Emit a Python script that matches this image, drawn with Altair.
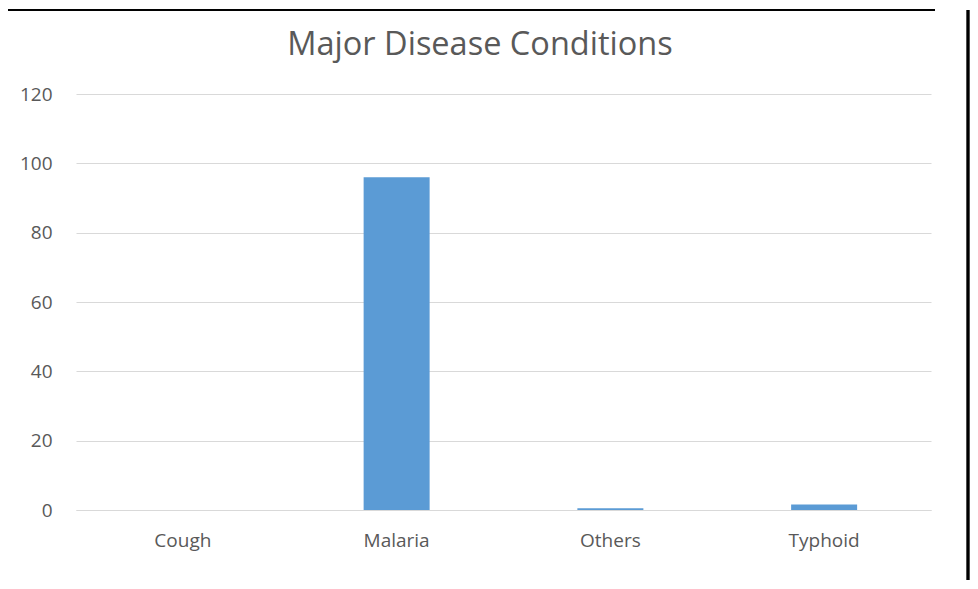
import altair as alt
import pandas as pd

categories = ["Cough", "Malaria", "Others", "Typhoid"]
values = [0, 96, 0.5, 1.6]
y_ticks = [0, 20, 40, 60, 80, 100, 120]
title_text = ["Major Disease Conditions"]

df = pd.DataFrame({"Condition": categories, "Count": values})
tdf = pd.DataFrame({"t": title_text})

FONT = "Open Sans"
GRAY = "#595959"

bars = alt.Chart(df).mark_bar(color="#5b9bd5", width=66).encode(
    x=alt.X("Condition:N", sort=categories, title=None,
            scale=alt.Scale(paddingInner=0, paddingOuter=0),
            axis=alt.Axis(labelAngle=0, labelFont=FONT, labelFontSize=19, labelColor=GRAY,
                          labelPadding=21, ticks=False, domainColor="#d9d9d9", domainWidth=1.2,
                          grid=False)),
    y=alt.Y("Count:Q", title=None,
            scale=alt.Scale(domain=[0, 120]),
            axis=alt.Axis(values=y_ticks, labelFont=FONT, labelFontSize=19, labelColor=GRAY,
                          labelPadding=24, ticks=False, domain=False, gridColor="#d9d9d9",
                          gridWidth=1.2)),
)

title = alt.Chart(tdf).mark_text(font=FONT, fontSize=32.5, color=GRAY, align="center",
                                 baseline="alphabetic").encode(
    text="t:N", x=alt.value(404), y=alt.value(-39)
)

top_line = alt.Chart(df).mark_rule(color="black", strokeWidth=1.5).encode(
    x=alt.value(-69), x2=alt.value(859), y=alt.value(-84)
)
right_line = alt.Chart(df).mark_rule(color="black", strokeWidth=2.5).encode(
    x=alt.value(892), y=alt.value(-84), y2=alt.value(500)
)

chart = alt.layer(bars, title, top_line, right_line).properties(
    width=855, height=416,
    autosize=alt.AutoSizeParams(type="none"),
    padding={"left": 68, "top": 86, "right": 39, "bottom": 70},
).configure_view(stroke=None)

chart.save("out.html", embed_options={"renderer": "svg", "actions": False})
